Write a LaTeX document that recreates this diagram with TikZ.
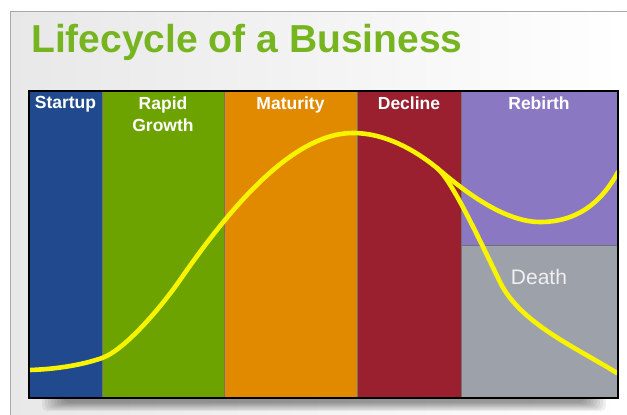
\documentclass[tikz,border=0pt]{standalone}
\usepackage{fontspec}
\setmainfont{Liberation Sans}
\definecolor{titlegreen}{HTML}{76B51F}
\definecolor{cstartup}{HTML}{214A8E}
\definecolor{crapid}{HTML}{6CA300}
\definecolor{cmaturity}{HTML}{E18A00}
\definecolor{cdecline}{HTML}{9A1F2F}
\definecolor{crebirth}{HTML}{8A78C3}
\definecolor{cdeath}{HTML}{9DA2AA}
\definecolor{curveyellow}{HTML}{F8F400}
\definecolor{framegray}{HTML}{A8A8A8}
\tikzset{
  phase/.style={text=white, font=\bfseries\fontsize{17.5}{22}\selectfont, inner sep=0pt, anchor=north, align=center},
  sep/.style={draw=black!55, line width=0.8pt},
  lifecurve/.style={draw=curveyellow, line width=4.6pt, line cap=round, line join=round}
}
\begin{document}
\begin{tikzpicture}[x=1pt,y=-1pt]
\useasboundingbox (0,0) rectangle (627,415);
\fill[white] (0,0) rectangle (627,415);
\shade[left color=black!9, right color=white] (10,11) rectangle (627,415);
\draw[framegray, line width=1pt] (10,415) -- (10,11) -- (627,11);
% title
\node[anchor=base west, inner sep=0pt, text=titlegreen, font=\bfseries\fontsize{39}{44}\selectfont] (title) at (31,52) {Lifecycle of a Business};
% shadow
\foreach \i in {0,...,7}
  \fill[black, opacity=0.06, rounded corners=5pt] (42+\i*3,392) rectangle (606-\i*3,411-\i*1.2);
% columns
\fill[cstartup]  (29,91) rectangle (102,398);
\fill[crapid]    (102,91) rectangle (224,398);
\fill[cmaturity] (224,91) rectangle (357,398);
\fill[cdecline]  (357,91) rectangle (461,398);
\fill[crebirth]  (461,91) rectangle (618,245);
\fill[cdeath]    (461,245) rectangle (618,398);
\draw[sep] (102,91) -- (102,398);
\draw[sep] (224,91) -- (224,398);
\draw[sep] (357,91) -- (357,398);
\draw[sep] (461,91) -- (461,398);
\draw[sep] (461,245) -- (618,245);
% labels
\node[phase] (startup) at (65.5,96.5) {Startup};
\node[phase] (rapid) at (163,96.5) {Rapid\\Growth};
\node[phase] (maturity) at (290.5,96.5) {Maturity};
\node[phase] (decline) at (409,96.5) {Decline};
\node[phase] (rebirth) at (539,96.5) {Rebirth};
\node[text=white!94!black, font=\fontsize{21}{25}\selectfont, inner sep=0pt] (death) at (539,277) {Death};
% curves
\coordinate (split) at (437,168);
\draw[lifecurve] (30,370) .. controls (60,369) and (85,364) .. (102,358)
  .. controls (125,350) and (162,306) .. (180,280)
  .. controls (225,215) and (290,133) .. (353,133)
  .. controls (385,133) and (415,150) .. (split);
\draw[lifecurve] (split) .. controls (455,183) and (500,222) .. (540,222)
  .. controls (575,222) and (600,205) .. (618,172);
\draw[lifecurve] (split) .. controls (452,180) and (482,245) .. (500,282)
  .. controls (520,323) and (575,347) .. (617,373);
% border
\draw[black, line width=2pt] (29,91) rectangle (618,398);
\end{tikzpicture}
\end{document}
